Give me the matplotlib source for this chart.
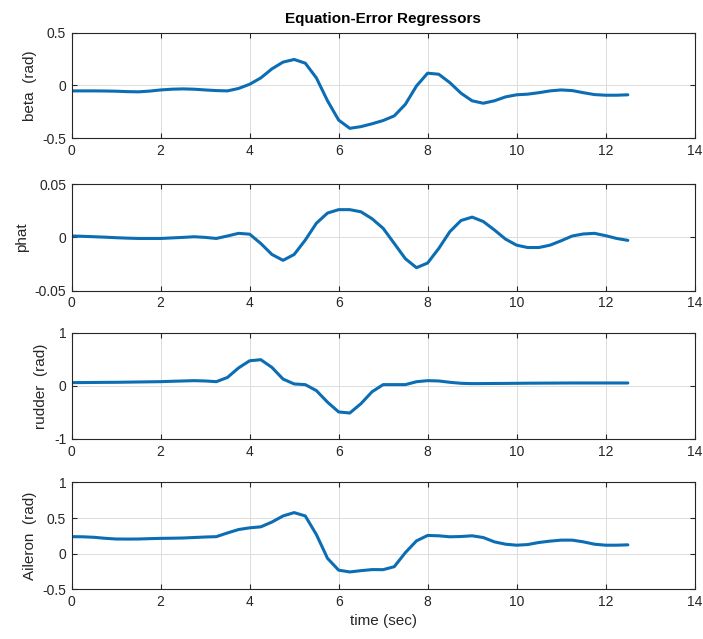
import numpy as np
import matplotlib
matplotlib.use('Agg')
import matplotlib.pyplot as plt

plt.rcParams['font.family'] = ['Liberation Sans', 'DejaVu Sans']
plt.rcParams['axes.unicode_minus'] = False

# sample times (sec), 0.25 s steps
t = np.arange(0, 12.501, 0.25)

beta = [-0.053, -0.053, -0.053, -0.054, -0.056, -0.060, -0.062, -0.055,
        -0.044, -0.037, -0.034, -0.037, -0.044, -0.050, -0.053, -0.030,
        0.010, 0.070, 0.156, 0.220, 0.245, 0.210, 0.070, -0.147,
        -0.330, -0.408, -0.392, -0.365, -0.334, -0.290, -0.180, -0.006,
        0.115, 0.105, 0.025, -0.075, -0.147, -0.170, -0.147, -0.110,
        -0.090, -0.084, -0.070, -0.053, -0.044, -0.050, -0.070, -0.088,
        -0.094, -0.094, -0.090]

phat = [0.0013, 0.0010, 0.0006, 0.0002, -0.0003, -0.0007, -0.0010, -0.0010,
        -0.0010, -0.0005, 0.0000, 0.0006, 0.0000, -0.0010, 0.0013, 0.0038,
        0.0030, -0.0057, -0.0160, -0.0215, -0.0160, -0.0025, 0.0133, 0.0228,
        0.0260, 0.0260, 0.0240, 0.0175, 0.0085, -0.0057, -0.0200, -0.0284,
        -0.0240, -0.0104, 0.0054, 0.0158, 0.0190, 0.0149, 0.0070, -0.0016,
        -0.0073, -0.0095, -0.0095, -0.0073, -0.0032, 0.0013, 0.0032, 0.0038,
        0.0016, -0.0010, -0.0028]

rudder = [0.063, 0.064, 0.066, 0.068, 0.069, 0.072, 0.075, 0.078,
          0.081, 0.088, 0.094, 0.100, 0.094, 0.081, 0.160, 0.340,
          0.475, 0.495, 0.350, 0.130, 0.038, 0.025, -0.088, -0.306,
          -0.490, -0.510, -0.335, -0.110, 0.025, 0.025, 0.025, 0.080,
          0.100, 0.094, 0.069, 0.050, 0.044, 0.045, 0.047, 0.048,
          0.050, 0.052, 0.053, 0.054, 0.055, 0.056, 0.056, 0.056,
          0.056, 0.056, 0.056]

aileron = [0.238, 0.236, 0.229, 0.215, 0.205, 0.204, 0.205, 0.210,
           0.214, 0.216, 0.219, 0.226, 0.233, 0.238, 0.290, 0.338,
           0.362, 0.376, 0.443, 0.529, 0.576, 0.529, 0.267, -0.067,
           -0.233, -0.258, -0.240, -0.225, -0.226, -0.184, 0.014, 0.179,
           0.255, 0.250, 0.236, 0.240, 0.250, 0.226, 0.165, 0.132,
           0.118, 0.127, 0.156, 0.175, 0.189, 0.189, 0.165, 0.132,
           0.118, 0.118, 0.123]

series = [beta, phat, rudder, aileron]
ylabels = ['beta  (rad)', 'phat', 'rudder  (rad)', 'Aileron  (rad)']
ylims = [(-0.5, 0.5), (-0.05, 0.05), (-1, 1), (-0.5, 1)]
yticks = [[-0.5, 0, 0.5], [-0.05, 0, 0.05], [-1, 0, 1], [-0.5, 0, 0.5, 1]]
ytick_labels = [['-0.5', '0', '0.5'], ['-0.05', '0', '0.05'],
                ['-1', '0', '1'], ['-0.5', '0', '0.5', '1']]
xticks = [0, 2, 4, 6, 8, 10, 12, 14]

fig = plt.figure(figsize=(7.03, 6.39), dpi=100)

bottoms = [0.784, 0.545, 0.313, 0.078]
heights = [0.165, 0.167, 0.166, 0.167]

for i in range(4):
    ax = fig.add_axes([0.102, bottoms[i], 0.886, heights[i]])
    ax.plot(t, series[i], color='#0b6db3', linewidth=2.2,
            solid_joinstyle='round', solid_capstyle='round')
    ax.set_xlim(0, 14)
    ax.set_ylim(*ylims[i])
    ax.set_xticks(xticks)
    ax.set_xticklabels([str(x) for x in xticks])
    ax.set_yticks(yticks[i])
    ax.set_yticklabels(ytick_labels[i])
    ax.grid(True, color='#dcdcdc', linewidth=0.7)
    ax.tick_params(direction='in', top=True, right=True, length=3.5,
                   width=0.8, labelsize=10, colors='#262626', pad=4)
    for sp in ax.spines.values():
        sp.set_color('#262626')
        sp.set_linewidth(0.8)
    ax.set_ylabel(ylabels[i], fontsize=11, color='#262626')
    if i == 0:
        ax.set_title('Equation-Error Regressors', fontsize=11,
                     fontweight='bold', pad=7)
    if i == 3:
        ax.set_xlabel('time (sec)', fontsize=11, color='#262626')

fig.savefig('out.png', dpi=100)
